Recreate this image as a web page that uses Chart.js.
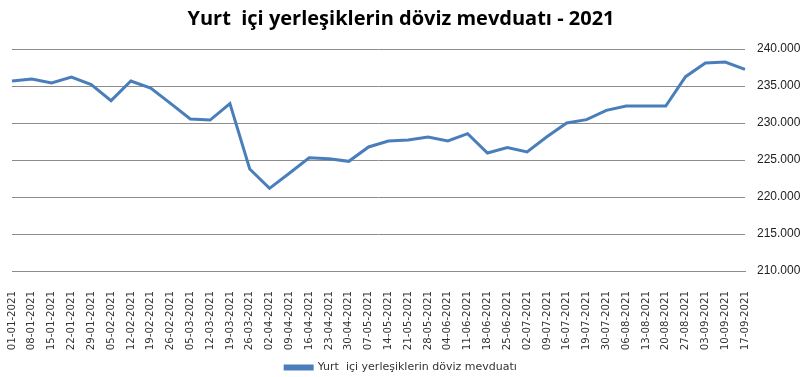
<!DOCTYPE html>
<html>
<head>
<meta charset="utf-8">
<script src="https://cdn.jsdelivr.net/npm/chart.js@4/dist/chart.umd.min.js"></script>
<style>
  html, body { margin: 0; padding: 0; background: #fff; }
  #wrap { width: 809px; height: 377px; position: relative; }
</style>
</head>
<body>
<div id="wrap"><canvas id="chart"></canvas></div>
<script>
// ── DATA ────────────────────────────────────────────
const seriesName = 'Yurt  içi yerleşiklerin döviz mevduatı';
const titleText = 'Yurt  içi yerleşiklerin döviz mevduatı - 2021';

const weeks = [
  '01-01-2021','08-01-2021','15-01-2021','22-01-2021','29-01-2021',
  '05-02-2021','12-02-2021','19-02-2021','26-02-2021',
  '05-03-2021','12-03-2021','19-03-2021','26-03-2021',
  '02-04-2021','09-04-2021','16-04-2021','23-04-2021','30-04-2021',
  '07-05-2021','14-05-2021','21-05-2021','28-05-2021',
  '04-06-2021','11-06-2021','18-06-2021','25-06-2021',
  '02-07-2021','09-07-2021','16-07-2021','19-07-2021','30-07-2021',
  '06-08-2021','13-08-2021','20-08-2021','27-08-2021',
  '03-09-2021','10-09-2021','17-09-2021'
];

const deposits = [
  235680, 235950, 235400, 236200, 235180,
  233020, 235680, 234730, 232650,
  230540, 230400, 232610, 223780,
  221170, 223200, 225300, 225180, 224820,
  226760, 227570, 227700, 228100,
  227570, 228560, 225950, 226670,
  226080, 228150, 230000, 230450, 231710,
  232300, 232300, 232300, 236260,
  238110, 238240, 237250
];

const yTicks = [210000, 215000, 220000, 225000, 230000, 235000, 240000];

// ── CHART ───────────────────────────────────────────
const fmt = v => v.toLocaleString('de-DE');

new Chart(document.getElementById('chart'), {
  type: 'line',
  data: {
    labels: weeks,
    datasets: [{
      label: seriesName,
      data: deposits,
      borderColor: '#4a7ebb',
      backgroundColor: '#4a7ebb',
      borderWidth: 3,
      pointRadius: 0,
      tension: 0
    }]
  },
  options: {
    responsive: true,
    maintainAspectRatio: false,
    animation: false,
    layout: { padding: { left: 2, right: 9, top: 0, bottom: 0 } },
    plugins: {
      title: {
        display: true,
        text: titleText,
        color: '#000',
        font: { family: 'Open Sans', size: 20, weight: 'bold' },
        padding: { top: 7, bottom: 18 }
      },
      legend: {
        position: 'bottom',
        maxHeight: 18,
        labels: {
          color: '#333',
          font: { family: 'DejaVu Sans', size: 11 },
          boxWidth: 27,
          boxHeight: 3,
          padding: 3
        }
      },
      tooltip: { enabled: false }
    },
    scales: {
      x: {
        grid: { display: false },
        border: { display: true, color: '#8c8c8c', width: 1 },
        afterFit: axis => { axis.height = 88; },
        ticks: {
          autoSkip: false,
          maxRotation: 90,
          minRotation: 90,
          padding: 12,
          color: '#333',
          font: { family: 'DejaVu Sans', size: 10.2 }
        }
      },
      y: {
        position: 'right',
        min: 210000,
        max: 240000,
        afterBuildTicks: axis => { axis.ticks = yTicks.map(v => ({ value: v })); },
        afterFit: axis => { axis.width = 55; },
        grid: { color: '#8c8c8c', lineWidth: 1, drawTicks: false },
        border: { display: false },
        ticks: {
          padding: 12,
          color: '#222',
          font: { family: 'Liberation Sans', size: 12 },
          callback: v => fmt(v)
        }
      }
    }
  }
});
</script>
</body>
</html>
